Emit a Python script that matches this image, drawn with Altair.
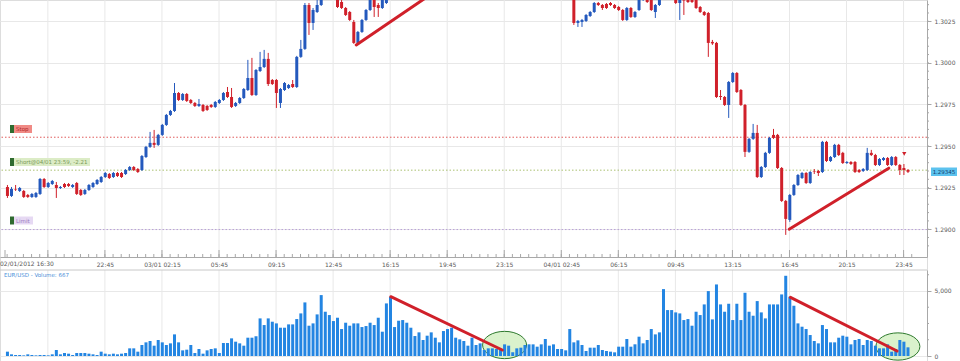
import json
import altair as alt
import pandas as pd

# ---------------- data (15-minute EUR/USD bars) ----------------
N_HIDDEN = 45  # bars 94..138 trade above the visible price window

opens = [
    1.29254, 1.29200, 1.29242, 1.29230, 1.29230, 1.29206, 1.29194, 1.29194, 1.29212, 1.29302,
    1.29254, 1.29272, 1.29266, 1.29248, 1.29272, 1.29272, 1.29254, 1.29278, 1.29236, 1.29212,
    1.29236, 1.29254, 1.29272, 1.29284, 1.29314, 1.29332, 1.29314, 1.29338, 1.29338, 1.29332,
    1.29356, 1.29374, 1.29362, 1.29356, 1.29434, 1.29495, 1.29519, 1.29507, 1.29567, 1.29627,
    1.29687, 1.29711, 1.29819, 1.29777, 1.29813, 1.29777, 1.29759, 1.29741, 1.29747, 1.29741,
    1.29747, 1.29735, 1.29759, 1.29777, 1.29825, 1.29795, 1.29741, 1.29759, 1.29789, 1.29837,
    1.29909, 1.29807, 1.29951, 1.29975, 1.30024, 1.29897, 1.29897, 1.29759, 1.29837, 1.29849,
    1.29873, 1.29855, 1.30036, 1.30084, 1.30348, 1.30240, 1.30306, 1.30348, None, None,
    None, 1.30408, 1.30366, 1.30330, 1.30306, 1.30246, 1.30120, 1.30186, 1.30258, 1.30318,
    1.30378, 1.30348, 1.30330, 1.30360,
] + [None] * N_HIDDEN + [
    1.30408,
    1.30240, 1.30246, 1.30252, 1.30282, 1.30306, 1.30360, 1.30348, 1.30354, 1.30360, 1.30348,
    1.30336, 1.30318, 1.30258, 1.30330, 1.30276, 1.30318, 1.30378, 1.30402, 1.30378, 1.30306,
    1.30348, None, None, None, 1.30396, 1.30360, 1.30378, 1.30408, 1.30390, 1.30378,
    1.30336, 1.30306, 1.30300, 1.30126, 1.30120, 1.29801, 1.29795, 1.29747, 1.29885, 1.29939,
    1.29837, 1.29747, 1.29465, 1.29543, 1.29579, 1.29314, 1.29374, 1.29459, 1.29567, 1.29567,
    1.29368, 1.29170, 1.29056, 1.29206, 1.29266, 1.29308, 1.29338, 1.29278, 1.29350, 1.29350,
    1.29344, 1.29525, 1.29410, 1.29434, 1.29507, 1.29459, 1.29398, 1.29404, 1.29404, 1.29356,
    1.29350, 1.29356, 1.29459, 1.29446, 1.29386, 1.29416, 1.29428, 1.29386, 1.29434, 1.29386,
    1.29368, 1.29356,
]

closes = [
    1.29200, 1.29242, 1.29239, 1.29248, 1.29194, 1.29194, 1.29212, 1.29218, 1.29302, 1.29254,
    1.29278, 1.29290, 1.29248, 1.29254, 1.29254, 1.29260, 1.29266, 1.29212, 1.29206, 1.29236,
    1.29266, 1.29278, 1.29296, 1.29314, 1.29338, 1.29308, 1.29338, 1.29320, 1.29314, 1.29356,
    1.29374, 1.29356, 1.29344, 1.29440, 1.29495, 1.29519, 1.29507, 1.29567, 1.29627, 1.29687,
    1.29711, 1.29819, 1.29777, 1.29813, 1.29771, 1.29759, 1.29741, 1.29753, 1.29711, 1.29717,
    1.29735, 1.29765, 1.29777, 1.29819, 1.29795, 1.29735, 1.29759, 1.29789, 1.29843, 1.29909,
    1.29807, 1.29957, 1.29975, 1.30024, 1.29873, 1.29873, 1.29819, 1.29843, 1.29879, 1.29867,
    1.29855, 1.30036, 1.30084, 1.30348, 1.30240, 1.30318, 1.30348, 1.30438, None, None,
    None, 1.30336, 1.30330, 1.30288, 1.30258, 1.30120, 1.30186, 1.30258, 1.30318, 1.30378,
    1.30336, 1.30330, 1.30378, 1.30408,
] + [None] * N_HIDDEN + [
    1.30240,
    1.30252, 1.30258, 1.30288, 1.30306, 1.30360, 1.30348, 1.30330, 1.30330, 1.30348, 1.30330,
    1.30318, 1.30258, 1.30330, 1.30276, 1.30306, 1.30378, 1.30402, 1.30366, 1.30318, 1.30348,
    1.30378, None, None, None, 1.30360, 1.30396, 1.30375, 1.30366, 1.30366, 1.30330,
    1.30306, 1.30288, 1.30120, 1.30117, 1.29795, 1.29795, 1.29747, 1.29885, 1.29939, 1.29825,
    1.29747, 1.29465, 1.29543, 1.29579, 1.29314, 1.29374, 1.29459, 1.29549, 1.29549, 1.29368,
    1.29170, 1.29062, 1.29206, 1.29266, 1.29326, 1.29338, 1.29278, 1.29344, 1.29347, 1.29338,
    1.29525, 1.29410, 1.29434, 1.29507, 1.29446, 1.29398, 1.29404, 1.29392, 1.29344, 1.29344,
    1.29362, 1.29459, 1.29446, 1.29386, 1.29422, 1.29428, 1.29386, 1.29434, 1.29386, 1.29356,
    1.29356, 1.29345,
]

highs = [
    1.29266, 1.29254, 1.29266, 1.29254, 1.29236, 1.29212, 1.29218, 1.29224, 1.29308, 1.29308,
    1.29284, 1.29296, 1.29284, 1.29260, 1.29278, 1.29278, 1.29272, 1.29284, 1.29242, 1.29242,
    1.29272, 1.29284, 1.29302, 1.29320, 1.29344, 1.29338, 1.29344, 1.29344, 1.29344, 1.29362,
    1.29380, 1.29380, 1.29368, 1.29446, 1.29501, 1.29585, 1.29597, 1.29573, 1.29633, 1.29693,
    1.29717, 1.29879, 1.29825, 1.29819, 1.29819, 1.29783, 1.29765, 1.29783, 1.29753, 1.29747,
    1.29753, 1.29771, 1.29783, 1.29825, 1.29855, 1.29849, 1.29765, 1.29795, 1.29849, 1.30018,
    1.30030, 1.29963, 1.30066, 1.30078, 1.30060, 1.29903, 1.29903, 1.29849, 1.29885, 1.29873,
    1.29897, 1.30042, 1.30138, 1.30360, 1.30360, 1.30330, 1.30378, 1.30468, None, None,
    None, 1.30426, 1.30378, 1.30336, 1.30312, 1.30258, 1.30192, 1.30264, 1.30324, 1.30390,
    1.30390, 1.30360, 1.30390, 1.30426,
] + [None] * N_HIDDEN + [
    1.30426,
    1.30258, 1.30264, 1.30294, 1.30312, 1.30366, 1.30366, 1.30354, 1.30360, 1.30366, 1.30354,
    1.30342, 1.30324, 1.30336, 1.30336, 1.30312, 1.30390, 1.30414, 1.30414, 1.30390, 1.30354,
    1.30390, None, None, None, 1.30408, 1.30408, 1.30396, 1.30414, 1.30396, 1.30384,
    1.30342, 1.30312, 1.30306, 1.30138, 1.30126, 1.29837, 1.29801, 1.29891, 1.29945, 1.29945,
    1.29843, 1.29753, 1.29549, 1.29633, 1.29627, 1.29380, 1.29465, 1.29555, 1.29603, 1.29573,
    1.29374, 1.29176, 1.29212, 1.29272, 1.29332, 1.29344, 1.29344, 1.29350, 1.29362, 1.29356,
    1.29531, 1.29531, 1.29440, 1.29513, 1.29513, 1.29465, 1.29410, 1.29410, 1.29410, 1.29362,
    1.29368, 1.29489, 1.29477, 1.29453, 1.29428, 1.29434, 1.29434, 1.29440, 1.29440, 1.29392,
    1.29392, 1.29362,
]

lows = [
    1.29188, 1.29194, 1.29230, 1.29224, 1.29188, 1.29188, 1.29188, 1.29188, 1.29206, 1.29248,
    1.29248, 1.29266, 1.29188, 1.29242, 1.29248, 1.29254, 1.29248, 1.29206, 1.29200, 1.29206,
    1.29230, 1.29248, 1.29266, 1.29278, 1.29308, 1.29302, 1.29308, 1.29314, 1.29308, 1.29326,
    1.29350, 1.29350, 1.29338, 1.29350, 1.29428, 1.29489, 1.29489, 1.29501, 1.29561, 1.29621,
    1.29681, 1.29705, 1.29771, 1.29771, 1.29765, 1.29753, 1.29735, 1.29735, 1.29705, 1.29711,
    1.29729, 1.29729, 1.29753, 1.29771, 1.29789, 1.29729, 1.29735, 1.29753, 1.29783, 1.29831,
    1.29801, 1.29801, 1.29945, 1.29969, 1.29861, 1.29867, 1.29729, 1.29729, 1.29831, 1.29843,
    1.29849, 1.29849, 1.30030, 1.30078, 1.30168, 1.30198, 1.30300, 1.30342, None, None,
    None, 1.30330, 1.30324, 1.30282, 1.30252, 1.30114, 1.30108, 1.30180, 1.30252, 1.30312,
    1.30276, 1.30276, 1.30324, 1.30354,
] + [None] * N_HIDDEN + [
    1.30228,
    1.30216, 1.30216, 1.30246, 1.30276, 1.30300, 1.30342, 1.30318, 1.30324, 1.30342, 1.30324,
    1.30312, 1.30252, 1.30252, 1.30270, 1.30270, 1.30312, 1.30372, 1.30360, 1.30312, 1.30270,
    1.30342, None, None, None, 1.30354, 1.30258, 1.30288, 1.30360, 1.30360, 1.30324,
    1.30300, 1.30282, 1.30036, 1.30108, 1.29789, 1.29777, 1.29741, 1.29669, 1.29879, 1.29819,
    1.29741, 1.29434, 1.29459, 1.29537, 1.29308, 1.29308, 1.29368, 1.29453, 1.29543, 1.29362,
    1.29164, 1.28966, 1.29044, 1.29200, 1.29260, 1.29302, 1.29272, 1.29272, 1.29332, 1.29320,
    1.29338, 1.29404, 1.29404, 1.29428, 1.29440, 1.29392, 1.29392, 1.29386, 1.29338, 1.29338,
    1.29344, 1.29350, 1.29440, 1.29380, 1.29380, 1.29410, 1.29380, 1.29380, 1.29380, 1.29326,
    1.29326, 1.29338,
]

volumes = [
    333, 128, 77, 77, 50, 128, 77, 50, 77, 77,
    50, 128, 461, 128, 230, 179, 77, 230, 230, 230,
    179, 128, 77, 333, 179, 128, 179, 128, 179, 230,
    589, 589, 333, 845, 1050, 1152, 794, 1229, 1050, 845,
    973, 1664, 1050, 435, 486, 845, 230, 538, 179, 435,
    538, 589, 230, 998, 998, 1357, 1101, 973, 794, 1408,
    1408, 1510, 2893, 2381, 2893, 2637, 2509, 2176, 2176, 2432,
    2432, 2842, 3277, 4122, 2330, 2509, 3200,
    4685, 3405, 3149, 2688, 2944, 2074, 2560, 2330, 2509, 2509,
    2227, 2304, 2560, 2381, 2944, 1869, 4045, 4557, 2227, 2714,
    2765, 2560, 2176, 1536, 1818, 1229, 1562, 1818, 1408, 1050,
    1920, 2074, 2176, 1408, 1280, 1152, 794, 1408, 845, 973,
    461, 589, 589, 538, 461, 896, 794, 282, 589, 640,
    845, 896, 896, 717, 896, 1306, 794, 896, 538, 538,
    435, 2074, 1050, 1203, 845, 384, 640, 640, 845, 461,
    384, 333, 282, 717, 717, 1306, 717,
    900,
    1485, 973, 1229, 2074, 1664, 1818, 5146, 3533, 3533, 3354,
    3277, 2765, 2842, 2330, 3405, 3149, 3968, 4992, 2816, 5504,
    3968, 3405, 4019, 2765, 4019, 2765, 4864, 3405, 3098, 4224,
    3354, 2893, 3968, 3968, 3968, 4736, 6170, 4557, 3866, 2509,
    2253, 2074, 1613, 1152, 973, 2381, 2074, 1050, 1050, 1408,
    1562, 1485, 896, 1229, 1306, 845, 1229, 1152, 794, 589,
    589, 896, 333, 538, 1229, 1101, 667,
]

# order levels
level_names = ["Stop", "Short@04/01 23:59, -2.21", "Limit"]
level_prices = [1.29553, 1.29355, 1.28998]
current_price = 1.29345
volume_label = "EUR/USD - Volume: 667"

# axis ticks (hours after 02/01/2012 16:30)
start_label = "02/01/2012 16:30"
x_tick_values = [0.12, 2.75, 6.25, 9.75, 13.25, 16.75, 20.25, 23.75, 27.25,
                 30.75, 34.25, 37.75, 41.25, 44.75, 48.25, 51.75, 55.25]
x_tick_labels = ["", "", "22:45", "03/01 02:15", "05:45", "09:15",
                 "12:45", "16:15", "19:45", "23:15", "04/01 02:45", "06:15",
                 "09:45", "13:15", "16:45", "20:15", "23:45"]
price_ticks = [1.2900, 1.2925, 1.2950, 1.2975, 1.3000, 1.3025]
volume_ticks = [0, 5000]

# hand-drawn annotations
price_trend_t = [21.67, 48.23]
price_trend_t2 = [26.83, 54.34]
price_trend_p = [1.30108, 1.29000]
price_trend_p2 = [1.30451, 1.29367]
vol_trend_t = [23.79, 48.31]
vol_trend_t2 = [30.63, 54.85]
vol_trend_v = [4560, 4514]
vol_trend_v2 = [461, 385]
ellipse_t = [30.77, 54.90]
ellipse_v = [846, 730]
trade_mark_t = [55.29]
trade_mark_p = [1.29453]

# ---------------- layout / style ----------------
W, H = 927, 361
PRICE_BOTTOM = 257
VOL_TOP, VOL_BOTTOM = 270, 356
X_DOMAIN = [0.12, 56.38]
PRICE_DOMAIN = [1.28833, 1.30378]
VOL_DOMAIN = [0, 6615]
BAR_OFFSET = 0.27

BLUE = "#2459bd"
RED = "#d0202a"
VOL_BLUE = "#2385e2"
GRID = "#e8e8e8"
AXIS = "#a8a8a8"
LABEL = "#5a5a5a"
FONT = "DejaVu Sans"
LEVEL_COLORS = ["#e05a5a", "#a9c070", "#b9a0d9"]

df = pd.DataFrame({
    "t": [BAR_OFFSET + 0.25 * i for i in range(len(opens))],
    "open": opens, "high": highs, "low": lows, "close": closes, "volume": volumes,
})
cdf = df.dropna(subset=["open"]).copy()
cdf["dir"] = ["up" if c >= o else "down" for o, c in zip(cdf["open"], cdf["close"])]
vdf = df[["t", "volume"]]

xs = alt.Scale(domain=X_DOMAIN, nice=False, zero=False)
ps = alt.Scale(domain=PRICE_DOMAIN, range=[PRICE_BOTTOM, 0], nice=False, zero=False)
vs = alt.Scale(domain=VOL_DOMAIN, range=[VOL_BOTTOM, VOL_TOP], nice=False, zero=False)

label_expr = f"{json.dumps(x_tick_labels)}[indexof({json.dumps(x_tick_values)}, datum.value)]"
x_axis = alt.Axis(orient="bottom", offset=PRICE_BOTTOM - H, values=x_tick_values,
                  labelExpr=label_expr, grid=False, ticks=False, domain=True,
                  domainColor=AXIS, labelFont=FONT, labelFontSize=6, labelColor=LABEL,
                  labelPadding=4, labelFlush=False, labelOverlap=False, title=None)
p_axis = alt.Axis(orient="right", values=price_ticks, format=".4f", grid=True, gridColor=GRID,
                  domainColor=AXIS, tickColor=AXIS, tickSize=4, labelFont=FONT,
                  labelFontSize=6, labelColor=LABEL, labelPadding=3, title=None)
v_axis = alt.Axis(orient="right", values=volume_ticks, labelExpr="format(datum.value, ',')",
                  grid=True, gridColor=GRID,
                  domainColor=AXIS, tickColor=AXIS, tickSize=4, labelFont=FONT,
                  labelFontSize=6, labelColor=LABEL, labelPadding=3, title=None)


def X(field="t"):
    return alt.X(f"{field}:Q", scale=xs, axis=x_axis, title=None)


def PY(field):
    return alt.Y(f"{field}:Q", scale=ps, axis=p_axis, title=None)


def VY(field):
    return alt.Y(f"{field}:Q", scale=vs, axis=v_axis, title=None)


one = pd.DataFrame({"k": [0]})
dir_color = alt.Color("dir:N", scale=alt.Scale(domain=["up", "down"], range=[BLUE, RED]), legend=None)

grid_df = pd.DataFrame({"v": x_tick_values[1:]})
major_df = pd.DataFrame({"v": x_tick_values})
minor_df = pd.DataFrame({"v": [0.25 + 0.5 * k for k in range(112)]})
pminor_df = pd.DataFrame({"p": [1.2890 + 0.0005 * k for k in range(30)]})
vminor_df = pd.DataFrame({"v": [1250, 2500, 3750, 6250]})

# ---------------- price panel ----------------
vgrid = alt.Chart(grid_df).mark_rule(color=GRID, strokeWidth=1).encode(
    x=X("v"), y=alt.value(0), y2=alt.value(PRICE_BOTTOM))
major_ticks = alt.Chart(major_df).mark_rule(color=AXIS).encode(
    x=X("v"), y=alt.value(PRICE_BOTTOM - 7), y2=alt.value(PRICE_BOTTOM))
minor_ticks = alt.Chart(minor_df).mark_rule(color=AXIS).encode(
    x=X("v"), y=alt.value(PRICE_BOTTOM - 3), y2=alt.value(PRICE_BOTTOM))
pminor = alt.Chart(pminor_df).mark_rule(color=AXIS, clip=False).encode(
    y=PY("p"), x=alt.value(W), x2=alt.value(W + 2))
start_text = alt.Chart(one).mark_text(text=start_label, font=FONT, fontSize=6, color=LABEL,
                                      align="left", baseline="top").encode(
    x=alt.value(0), y=alt.value(PRICE_BOTTOM + 4))

levels_df = pd.DataFrame({"name": level_names, "price": level_prices})
level_layers = [
    alt.Chart(levels_df[levels_df["name"] == n]).mark_rule(
        color=c, strokeDash=[1.5, 2], strokeWidth=1).encode(y=PY("price"))
    for n, c in zip(level_names, LEVEL_COLORS)
]

wicks = alt.Chart(cdf).mark_rule(clip=True, strokeWidth=1).encode(
    x=X(), y=PY("low"), y2="high:Q", color=dir_color)
bodies = alt.Chart(cdf).mark_bar(clip=True, size=3).encode(
    x=X(), y=PY("open"), y2="close:Q", color=dir_color)

ptrend_df = pd.DataFrame({"t": price_trend_t, "t2": price_trend_t2,
                          "p": price_trend_p, "p2": price_trend_p2})
ptrend = alt.Chart(ptrend_df).mark_rule(color=RED, strokeWidth=3, clip=True, strokeCap="round").encode(
    x=X(), x2="t2:Q", y=PY("p"), y2="p2:Q")

trade_df = pd.DataFrame({"t": trade_mark_t, "p": trade_mark_p})
trade = alt.Chart(trade_df).mark_point(shape="triangle-down", filled=True, color=RED,
                                       size=18, opacity=1).encode(x=X(), y=PY("p"))


def tag(x0, x1, y0, y1, fill, text, tcolor, tx, align="left", size=5.5):
    sq = alt.Chart(one).mark_rect(color=fill).encode(
        x=alt.value(x0), x2=alt.value(x1), y=alt.value(y0), y2=alt.value(y1))
    tx_ = alt.Chart(one).mark_text(text=text, font=FONT, fontSize=size, color=tcolor,
                                   align=align, baseline="middle").encode(
        x=alt.value(tx), y=alt.value((y0 + y1) / 2))
    return [sq, tx_]


def green_sq(y0, y1):
    return alt.Chart(one).mark_rect(color="#2f6b30").encode(
        x=alt.value(10), x2=alt.value(14), y=alt.value(y0), y2=alt.value(y1))


annots = []
annots += [green_sq(125, 133)] + tag(14, 32, 125, 133, "#f08a85", level_names[0], "#b0282a", 16)
annots += [green_sq(158, 166)] + tag(14, 90, 158, 166, "#dcecc6", level_names[1], "#7b9a58", 16)
annots += [green_sq(216.5, 224.5)] + tag(14, 33, 216.5, 224.5, "#e6d9f3", level_names[2], "#9c7cc0", 16)
annots += tag(W + 4, W + 30, 167.5, 176, "#5cc2ee", f"{current_price:.5f}", "#15406e",
              W + 17, align="center")

price_group = alt.layer(vgrid, major_ticks, minor_ticks, pminor, start_text, *level_layers,
                        wicks, bodies, ptrend, trade, *annots)

# ---------------- volume panel ----------------
vgrid2 = alt.Chart(grid_df).mark_rule(color=GRID, strokeWidth=1).encode(
    x=X("v"), y=alt.value(VOL_TOP), y2=alt.value(VOL_BOTTOM))
vtop = alt.Chart(one).mark_rule(color="#c8c8c8").encode(
    x=alt.value(0), x2=alt.value(W), y=alt.value(VOL_TOP), y2=alt.value(VOL_TOP))
vminor = alt.Chart(vminor_df).mark_rule(color=AXIS).encode(
    y=VY("v"), x=alt.value(W), x2=alt.value(W + 2))

ell_path = "M-1,0A1,0.62 0 1,1 1,0A1,0.62 0 1,1 -1,0Z"
ell_df = pd.DataFrame({"t": ellipse_t, "v": ellipse_v})
ellipses = alt.Chart(ell_df).mark_point(shape=ell_path, size=1936, filled=True,
                                        fill="#d3f0c3", stroke="#2f7a2f", strokeWidth=1,
                                        opacity=1, fillOpacity=0.85).encode(x=X(), y=VY("v"))

vbars = alt.Chart(vdf).mark_bar(size=3, color=VOL_BLUE).encode(
    x=X(), y=VY("volume"), y2=alt.datum(0))

vtrend_df = pd.DataFrame({"t": vol_trend_t, "t2": vol_trend_t2, "v": vol_trend_v, "v2": vol_trend_v2})
vtrend = alt.Chart(vtrend_df).mark_rule(color=RED, strokeWidth=3, strokeCap="round").encode(
    x=X(), x2="t2:Q", y=VY("v"), y2="v2:Q")

vlabel = alt.Chart(one).mark_text(text=volume_label, font=FONT, fontSize=5.5, color="#4a8fd8",
                                  align="left", baseline="middle").encode(
    x=alt.value(4), y=alt.value(275))

vol_group = alt.layer(vgrid2, vtop, vminor, ellipses, vbars, vtrend, vlabel)

chart = alt.layer(price_group, vol_group).resolve_scale(y="independent").properties(
    width=W, height=H,
    padding={"left": 0, "top": 0, "right": 960 - W, "bottom": 0},
    autosize=alt.AutoSizeParams(type="none"),
).configure_view(stroke=None).configure(background="white", font=FONT)

chart.save("out.html", embed_options={"renderer": "svg", "actions": False})
